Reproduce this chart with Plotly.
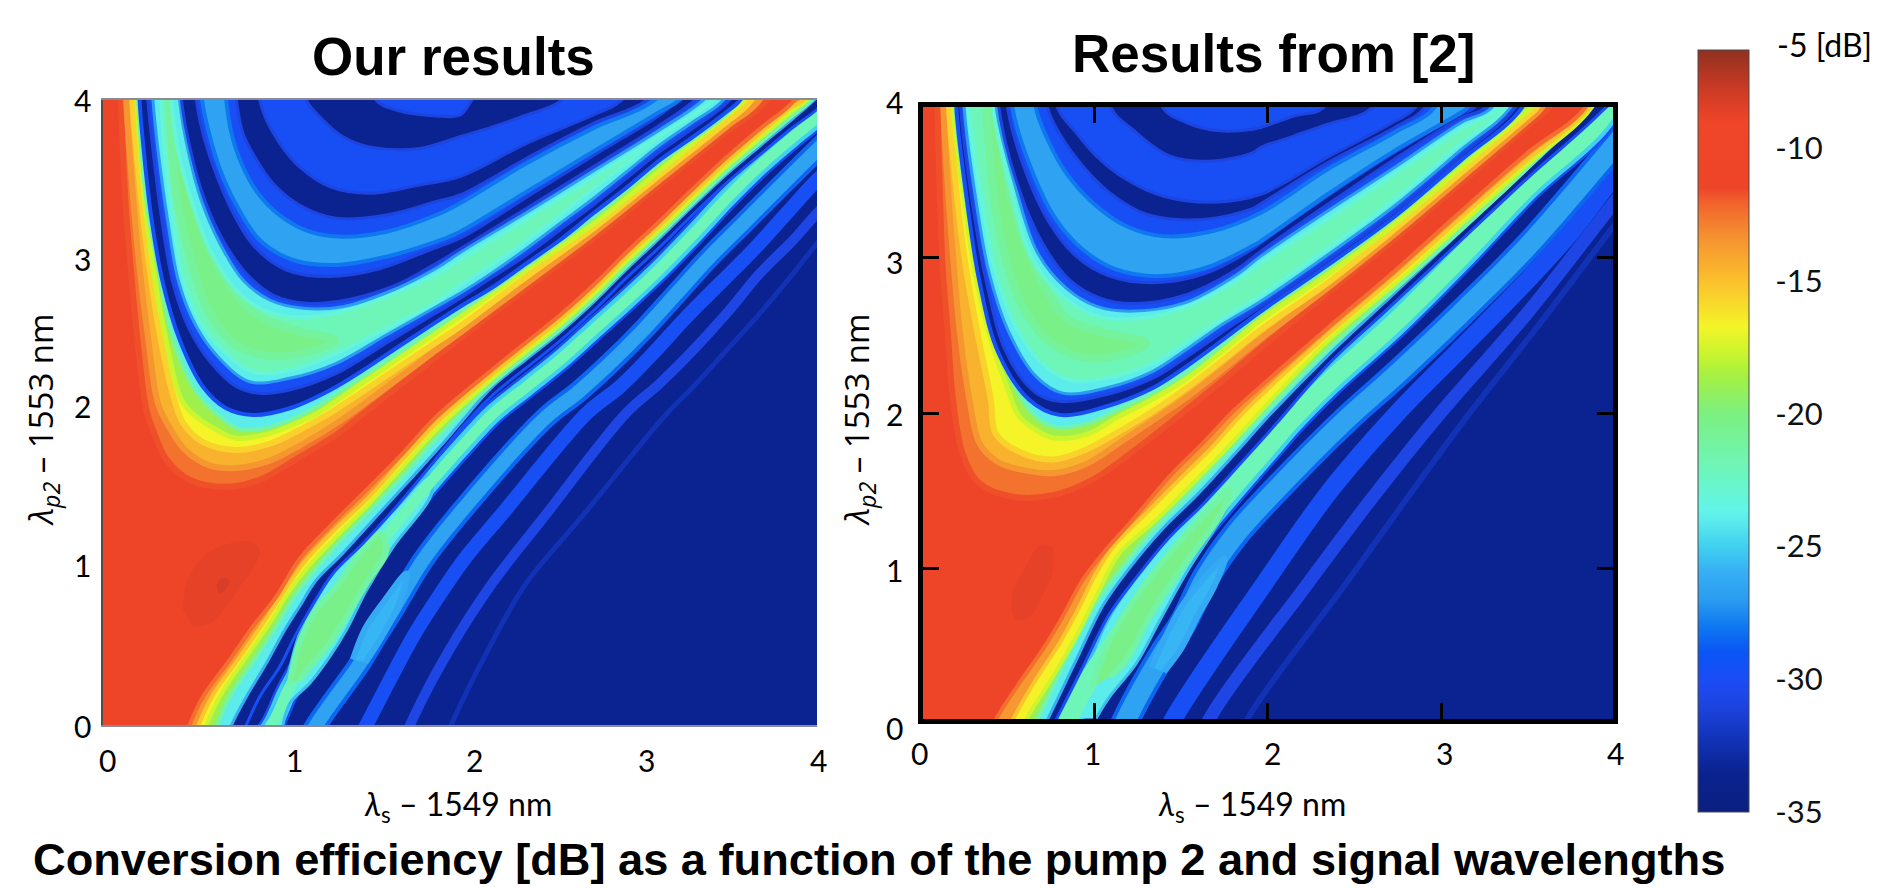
import plotly.graph_objects as go

# ---------- colour scale ----------
CB_DB = [-35, -33.5, -32, -31, -30, -29, -28, -27, -26, -25, -24, -23.6, -22, -20, -18.5, -17.8, -16.7, -15, -13.3, -12, -11.5, -9, -7.7, -6.3]
CB_HEX = ["#0c1f80", "#0a2390", "#1436c0", "#1e44e0", "#1c4cf5", "#0a55f5", "#0f78f0", "#2b9cf0", "#36aef5", "#40d0f0",
          "#5cecec", "#62f5e8", "#6ef5b8", "#7cf080", "#a8f040", "#c7f52f", "#f4f428", "#fbc02d", "#f59030", "#f0602c",
          "#ee4529", "#ef4529", "#c93a25", "#90301f"]
CB_TICKS = [-10, -15, -20, -25, -30, -35]
CB_LABELS = ["-10", "-15", "-20", "-25", "-30", "-35"]
X_TICKS = ["0", "1", "2", "3", "4"]
Y_TICKS = ["0", "1", "2", "3", "4"]

# ---------- "Our results": contour lines, (x, y) in nm ----------
L_V1 = [(.09,4.3),(.10,4),(.125,3.36),(.155,2.93),(.19,2.5),(.243,2.016),(.28,1.89),(.355,1.70),(.485,1.57),(.71,1.525),(.90,1.58),(1.08,1.70),(1.31,1.86),(1.40,1.94),(1.68,2.19),(1.867,2.356),(2,2.475),(2.373,2.795),(2.747,3.115),(3.12,3.456),(3.494,3.797),(3.71,3.99),(3.85,4.3)]
L_V1B = [(.125,4.3),(.13,4),(.17,3.36),(.205,2.93),(.25,2.5),(.31,2.05),(.375,1.9),(.46,1.76),(.6,1.66),(.75,1.645),(.93,1.69),(1.12,1.80),(1.32,1.94),(1.68,2.24),(1.867,2.40),(2,2.51),(2.373,2.827),(2.747,3.147),(3.12,3.488),(3.494,3.83),(3.67,3.99),(3.8,4.3)]
L_V2 = [(.155,4.3),(.165,4),(.215,3.36),(.26,2.93),(.317,2.507),(.40,2.08),(.45,1.93),(.56,1.81),(.747,1.76),(.934,1.80),(1.12,1.90),(1.27,1.995),(1.68,2.307),(1.867,2.449),(2,2.55),(2.373,2.87),(2.747,3.179),(3.12,3.52),(3.494,3.861),(3.625,3.99),(3.75,4.3)]
L_V3 = [(.185,4.3),(.19,4),(.233,3.36),(.28,2.93),(.345,2.507),(.44,2.08),(.52,1.975),(.635,1.89),(.747,1.835),(.934,1.866),(1.12,1.95),(1.21,2.0),(1.40,2.147),(1.68,2.365),(1.867,2.51),(2,2.613),(2.373,2.912),(2.747,3.206),(3.12,3.548),(3.494,3.9),(3.587,3.99),(3.7,4.3)]
L_V4 = [(.19,4.3),(.197,4),(.243,3.36),(.308,2.933),(.383,2.507),(.504,2.165),(.6,2.03),(.75,1.90),(.85,1.89),(1.0,1.93),(1.2,2.04),(1.4,2.19),(1.68,2.40),(1.867,2.544),(2,2.645),(2.373,2.94),(2.747,3.25),(3.12,3.6),(3.494,3.91),(3.56,4),(3.68,4.3)]
L_NOUT = [(.2,4.3),(.205,4),(.228,3.68),(.27,3.253),(.336,2.827),(.43,2.464),(.56,2.165),(.69,2.027),(.84,1.984),(1.046,2.027),(1.307,2.165),(1.68,2.44),(1.867,2.58),(2,2.677),(2.187,2.805),(2.373,2.955),(2.56,3.104),(2.747,3.275),(2.934,3.44),(3.12,3.616),(3.307,3.765),(3.494,3.925),(3.57,4),(3.7,4.3)]
L_NIN = [(.245,4.3),(.252,4),(.28,3.68),(.327,3.253),(.392,2.827),(.486,2.528),(.607,2.315),(.747,2.165),(.878,2.123),(1.046,2.144),(1.307,2.25),(1.587,2.444),(1.867,2.638),(2,2.73),(2.187,2.87),(2.373,3.008),(2.56,3.168),(2.747,3.328),(2.934,3.5),(3.12,3.67),(3.307,3.82),(3.51,4),(3.65,4.3)]
L_V8 = [(.27,4.3),(.28,4),(.308,3.68),(.359,3.253),(.426,2.827),(.523,2.55),(.644,2.357),(.822,2.197),(1.046,2.219),(1.307,2.315),(1.587,2.496),(1.867,2.677),(2,2.763),(2.187,2.90),(2.373,3.05),(2.56,3.21),(2.747,3.37),(2.934,3.541),(3.12,3.712),(3.307,3.861),(3.475,4),(3.6,4.3)]
L_V9 = [(.32,4.3),(.327,4),(.345,3.68),(.392,3.253),(.457,2.827),(.56,2.55),(.672,2.4),(.84,2.261),(1.046,2.272),(1.307,2.379),(1.587,2.54),(1.867,2.71),(2,2.816),(2.187,2.955),(2.373,3.104),(2.56,3.264),(2.747,3.435),(2.934,3.595),(3.12,3.765),(3.307,3.915),(3.41,4),(3.55,4.3)]
L_GREEN = [(.37,4.1),(.41,3.4),(.5,2.95),(.6,2.63),(.75,2.43),(1.0,2.36),(1.3,2.46),(1.1,2.52),(.9,2.6),(.75,2.75),(.62,3.0),(.52,3.3),(.45,3.7),(.4,4.1)]
L_V10 = [(.375,4.3),(.383,3.99),(.42,3.68),(.495,3.36),(.60,3.04),(.747,2.784),(.878,2.667),(1.046,2.613),(1.307,2.635),(1.587,2.74),(1.867,2.88),(2,2.976),(2.373,3.236),(2.747,3.50),(3.12,3.77),(3.42,4),(3.65,4.3)]
L_V11 = [(.42,4.3),(.43,3.99),(.476,3.68),(.55,3.36),(.654,3.083),(.784,2.848),(.934,2.72),(1.12,2.667),(1.344,2.677),(1.625,2.784),(1.867,2.923),(2,3.023),(2.373,3.28),(2.747,3.546),(3.12,3.81),(3.363,4),(3.6,4.3)]
L_V12 = [(.43,4.3),(.44,4),(.49,3.68),(.57,3.36),(.672,3.104),(.803,2.89),(.952,2.752),(1.14,2.70),(1.363,2.72),(1.643,2.816),(1.867,2.955),(2,3.046),(2.373,3.307),(2.747,3.573),(3.12,3.84),(3.316,4),(3.55,4.3)]
L_V13 = [(.51,4.3),(.523,4),(.56,3.787),(.626,3.55),(.72,3.296),(.85,3.06),(1.027,2.912),(1.27,2.87),(1.55,2.92),(1.83,3.04),(2,3.115),(2.373,3.377),(2.747,3.644),(3.12,3.904),(3.223,4),(3.5,4.3)]
L_V14 = [(.54,4.3),(.555,4),(.594,3.787),(.657,3.55),(.747,3.328),(.878,3.104),(1.064,2.976),(1.307,2.944),(1.587,2.997),(1.867,3.093),(2,3.157),(2.373,3.413),(2.747,3.67),(3.12,3.925),(3.23,4),(3.45,4.3)]
L_V15 = [(.67,4.3),(.69,4),(.72,3.787),(.775,3.595),(.868,3.403),(1.0,3.253),(1.158,3.157),(1.344,3.125),(1.587,3.157),(1.867,3.264),(2,3.339),(2.373,3.595),(2.747,3.82),(3.09,4),(3.3,4.3)]
L_V16 = [(.72,4.3),(.747,4),(.784,3.787),(.85,3.637),(.952,3.467),(1.10,3.328),(1.307,3.243),(1.587,3.264),(1.867,3.35),(2,3.392),(2.373,3.627),(2.747,3.85),(3.046,4),(3.25,4.3)]
L_V17 = [(.85,4.3),(.878,4),(.915,3.872),(.99,3.723),(1.10,3.573),(1.27,3.445),(1.494,3.403),(1.774,3.456),(2,3.51),(2.373,3.723),(2.747,3.904),(2.896,3.99),(3.1,4.3)]
L_V18 = [(1.1,4.3),(1.14,4),(1.214,3.893),(1.344,3.765),(1.494,3.70),(1.774,3.69),(2,3.765),(2.187,3.83),(2.373,3.904),(2.56,3.99),(2.8,4.3)]
L_V19 = [(1.48,4.3),(1.53,4),(1.643,3.936),(1.867,3.898),(2,3.904),(2.06,3.99),(2.2,4.3)]
L_P0 = [(.70,-.3),(.803,0),(.878,.181),(.99,.373),(1.074,.565),(1.158,.736),(1.288,.97),(1.457,1.163),(1.643,1.397),(1.83,1.653),(2,1.89),(2.187,2.116),(2.373,2.287),(2.56,2.458),(2.747,2.65),(2.934,2.863),(3.12,3.06),(3.307,3.27),(3.494,3.47),(3.68,3.65),(3.867,3.827),(4,3.94),(4.3,4.3)]
L_P1 = [(.62,-.3),(.72,0),(.803,.181),(.915,.395),(1.018,.608),(1.10,.757),(1.195,.928),(1.344,1.10),(1.53,1.333),(1.718,1.568),(1.905,1.803),(2,1.93),(2.187,2.172),(2.373,2.342),(2.56,2.513),(2.747,2.705),(2.934,2.918),(3.12,3.118),(3.307,3.325),(3.494,3.525),(3.68,3.705),(3.867,3.883),(3.98,3.996),(4.25,4.3)]
L_P2 = [(.54,-.3),(.64,0),(.71,.181),(.85,.42),(.97,.63),(1.07,.82),(1.17,.97),(1.33,1.18),(1.51,1.39),(1.7,1.62),(1.88,1.85),(2.187,2.19),(2.373,2.362),(2.56,2.532),(2.747,2.724),(2.934,2.938),(3.12,3.137),(3.307,3.344),(3.494,3.544),(3.68,3.725),(3.867,3.902),(3.97,4),(4.2,4.3)]
L_P3 = [(.48,-.3),(.58,0),(.654,.181),(.803,.437),(.934,.65),(1.036,.843),(1.14,1.0),(1.307,1.205),(1.494,1.419),(1.68,1.653),(1.867,1.888),(2.187,2.221),(2.373,2.391),(2.56,2.562),(2.747,2.754),(2.934,2.967),(3.12,3.167),(3.307,3.374),(3.494,3.574),(3.68,3.755),(3.867,3.932),(3.933,3.99),(4.15,4.3)]
L_P4 = [(.44,-.3),(.535,0),(.61,.181),(.757,.42),(.89,.64),(1.0,.83),(1.12,1.03),(1.29,1.24),(1.5,1.47),(1.68,1.70),(1.867,1.93),(2.187,2.25),(2.373,2.421),(2.56,2.592),(2.747,2.784),(2.934,2.997),(3.12,3.196),(3.307,3.404),(3.494,3.604),(3.68,3.785),(3.867,3.962),(3.914,3.99),(4.1,4.3)]
L_P5 = [(.39,-.3),(.485,0),(.56,.181),(.71,.416),(.84,.63),(.97,.82),(1.10,1.06),(1.27,1.27),(1.494,1.525),(1.68,1.74),(1.867,1.973),(2.187,2.28),(2.373,2.451),(2.56,2.622),(2.747,2.814),(2.934,3.027),(3.12,3.226),(3.307,3.434),(3.494,3.634),(3.68,3.815),(3.867,3.99),(4.05,4.3)]
L_SGREEN = [(.82,-.2),(.952,.01),(1.027,.2),(1.12,.395),(1.195,.565),(1.307,.795),(1.457,1.03),(1.643,1.29),(1.83,1.547),(2.017,1.79),(2.187,1.995),(2.373,2.165),(2.56,2.336),(2.747,2.528),(2.934,2.72),(3.12,2.92),(3.307,3.14),(3.494,3.37),(3.68,3.58),(3.867,3.765),(4,3.893),(4.2,4.2)]
L_SLIGHT = [(1.1,-.2),(1.195,0),(1.44,.395),(1.53,.565),(1.625,.736),(1.79,1.05),(1.98,1.33),(2.485,1.973),(2.654,2.123),(2.84,2.315),(3.027,2.528),(3.214,2.763),(3.40,2.997),(3.587,3.21),(3.774,3.424),(4,3.68),(4.2,3.9)]
L_SBLUE = [(1.38,-.2),(1.475,0),(1.737,.565),(1.867,.80),(2.017,1.05),(2.25,1.37),(2.71,1.995),(2.896,2.165),(3.083,2.38),(3.27,2.613),(3.457,2.827),(3.643,3.04),(3.83,3.275),(4,3.488),(4.2,3.7)]
L_SBLUE2 = [(1.65,-.2),(1.74,.05),(1.94,.48),(2.18,.906),(2.47,1.33),(2.93,1.995),(3.12,2.187),(3.307,2.4),(3.494,2.635),(3.68,2.89),(3.867,3.104),(4,3.275),(4.2,3.5)]
L_SFAINT = [(1.88,-.2),(1.97,.05),(2.157,.48),(2.37,.906),(2.68,1.33),(3.16,1.995),(3.307,2.165),(3.494,2.4),(3.68,2.635),(3.867,2.89),(4,3.083),(4.2,3.35)]
L_LOBE_CYAN = [(.896,0),(1.008,.224),(1.083,.523),(1.158,.757),(1.288,.97),(1.457,1.163),(1.65,1.40),(1.83,1.60),(1.84,1.48),(1.625,1.14),(1.475,.86),(1.363,.608),(1.27,.437),(1.158,.267),(1.046,.139),(1.008,0)]
L_LOBE_GREEN = [(1.046,.267),(1.10,.523),(1.195,.736),(1.307,.885),(1.44,1.10),(1.55,1.226),(1.587,1.12),(1.475,.906),(1.363,.693),(1.27,.523),(1.158,.373),(1.10,.288)]
L_LOBE_LIGHT = [(1.40,.42),(1.47,.62),(1.58,.80),(1.70,.97),(1.66,.78),(1.56,.56),(1.47,.40)]
L_SPOT = [(.448,.736),(.467,.906),(.56,1.077),(.654,1.142),(.822,1.174),(.878,1.12),(.84,1.0),(.766,.885),(.69,.757),(.6,.65),(.504,.629)]
L_SPOT2 = [(.635,.89),(.66,.94),(.71,.93),(.69,.87),(.65,.84)]

# ---------- "Results from [2]" ----------
R_V1 = [(.09,4.4),(.095,3.97),(.11,3.38),(.125,2.947),(.155,2.516),(.185,2.085),(.24,1.74),(.335,1.548),(.53,1.46),(.76,1.47),(.99,1.57),(1.22,1.75),(1.53,2.02),(1.75,2.22),(1.96,2.42),(2.345,2.775),(2.73,3.12),(3.116,3.486),(3.5,3.853),(3.617,3.97),(3.8,4.4)]
R_V1B = [(.125,4.4),(.13,3.97),(.16,3.38),(.19,2.947),(.225,2.516),(.28,2.085),(.34,1.80),(.45,1.68),(.6,1.63),(.76,1.612),(.95,1.67),(1.16,1.82),(1.4,2.0),(1.53,2.10),(1.75,2.29),(1.96,2.48),(2.345,2.807),(2.73,3.152),(3.116,3.518),(3.5,3.885),(3.58,3.97),(3.75,4.4)]
R_V2 = [(.155,4.4),(.162,3.97),(.21,3.38),(.258,2.947),(.326,2.516),(.403,2.085),(.43,1.87),(.566,1.75),(.76,1.70),(.95,1.763),(1.145,1.882),(1.337,2.011),(1.53,2.16),(1.75,2.35),(1.96,2.538),(2.345,2.84),(2.73,3.184),(3.116,3.551),(3.5,3.917),(3.55,3.97),(3.7,4.4)]
R_V3 = [(.18,4.4),(.185,3.97),(.249,3.38),(.306,2.947),(.393,2.516),(.509,2.128),(.566,1.979),(.66,1.893),(.76,1.84),(.95,1.86),(1.145,1.98),(1.337,2.09),(1.53,2.22),(1.75,2.41),(1.96,2.60),(2.345,2.894),(2.73,3.217),(3.116,3.583),(3.5,3.95),(3.52,3.97),(3.68,4.4)]
R_V4 = [(.195,4.4),(.20,3.97),(.262,3.38),(.33,2.947),(.415,2.516),(.53,2.2),(.64,2.0),(.76,1.914),(.95,1.93),(1.15,2.03),(1.337,2.13),(1.53,2.26),(1.75,2.45),(1.96,2.646),(2.345,2.937),(2.73,3.26),(3.116,3.626),(3.46,3.96),(3.62,4.4)]
R_NOUT = [(.2,4.4),(.204,3.97),(.264,3.38),(.335,2.861),(.447,2.387),(.624,2.085),(.798,1.988),(1.067,2.042),(1.337,2.161),(1.53,2.30),(1.75,2.48),(1.96,2.656),(2.345,2.954),(2.73,3.266),(3.116,3.633),(3.463,3.967),(3.62,4.4)]
R_NIN = [(.225,4.4),(.229,3.97),(.293,3.38),(.374,2.861),(.493,2.387),(.663,2.128),(.798,2.075),(1.067,2.118),(1.337,2.225),(1.53,2.36),(1.75,2.53),(1.96,2.687),(2.345,2.984),(2.73,3.296),(3.116,3.663),(3.434,3.98),(3.6,4.4)]
R_V8 = [(.245,4.4),(.249,3.97),(.316,3.38),(.393,2.904),(.509,2.516),(.663,2.236),(.817,2.128),(1.067,2.161),(1.337,2.269),(1.53,2.41),(1.75,2.58),(1.96,2.721),(2.345,3.02),(2.73,3.335),(3.116,3.70),(3.405,3.98),(3.55,4.4)]
R_V9 = [(.27,4.4),(.274,3.97),(.351,3.38),(.422,2.947),(.547,2.56),(.70,2.32),(.855,2.215),(1.067,2.225),(1.337,2.322),(1.53,2.46),(1.75,2.62),(1.96,2.764),(2.345,3.066),(2.73,3.38),(3.116,3.745),(3.37,3.97),(3.5,4.4)]
R_GREEN = [(.37,4.1),(.42,3.4),(.5,2.95),(.6,2.66),(.75,2.45),(1.0,2.35),(1.3,2.45),(1.05,2.52),(.85,2.6),(.72,2.8),(.62,3.05),(.52,3.4),(.43,4.1)]
R_V10 = [(.41,4.4),(.416,3.97),(.509,3.486),(.644,2.99),(.817,2.753),(.99,2.635),(1.183,2.603),(1.491,2.667),(1.819,2.85),(1.96,2.969),(2.345,3.249),(2.73,3.54),(3.116,3.831),(3.33,3.97),(3.48,4.4)]
R_V11 = [(.43,4.4),(.435,3.97),(.538,3.486),(.672,3.034),(.836,2.807),(1.01,2.689),(1.2,2.657),(1.52,2.71),(1.819,2.89),(1.96,3.012),(2.345,3.303),(2.73,3.583),(3.116,3.874),(3.29,3.97),(3.42,4.4)]
R_V12 = [(.445,4.4),(.45,3.97),(.566,3.443),(.70,3.098),(.855,2.861),(1.03,2.743),(1.22,2.706),(1.53,2.764),(1.819,2.925),(1.96,3.044),(2.345,3.346),(2.73,3.637),(3.116,3.906),(3.25,3.97),(3.4,4.4)]
R_V13 = [(.495,4.4),(.50,3.97),(.605,3.551),(.74,3.228),(.894,3.012),(1.087,2.883),(1.337,2.84),(1.626,2.894),(1.915,3.06),(1.96,3.098),(2.345,3.40),(2.73,3.68),(3.116,3.93),(3.19,3.97),(3.35,4.4)]
R_V14 = [(.52,4.4),(.528,3.97),(.644,3.551),(.778,3.249),(.933,3.055),(1.125,2.926),(1.376,2.883),(1.645,2.937),(1.915,3.08),(1.96,3.109),(2.345,3.411),(2.73,3.691),(3.116,3.94),(3.15,3.97),(3.3,4.4)]
R_V15 = [(.65,4.4),(.663,3.97),(.73,3.766),(.836,3.551),(.99,3.357),(1.183,3.206),(1.395,3.141),(1.684,3.174),(1.96,3.292),(2.345,3.572),(2.73,3.81),(2.96,3.97),(3.1,4.4)]
R_V16 = [(.71,4.4),(.73,3.97),(.807,3.788),(.933,3.594),(1.087,3.422),(1.3,3.282),(1.626,3.249),(1.915,3.32),(1.96,3.35),(2.345,3.615),(2.73,3.842),(2.904,3.97),(3.05,4.4)]
R_V17 = [(.77,4.4),(.788,3.97),(.894,3.81),(1.01,3.659),(1.183,3.508),(1.395,3.4),(1.684,3.36),(1.96,3.411),(2.345,3.65),(2.73,3.88),(2.85,3.97),(3.0,4.4)]
R_V18 = [(1.07,4.4),(1.096,3.97),(1.22,3.83),(1.433,3.659),(1.684,3.626),(1.915,3.68),(1.96,3.713),(2.153,3.788),(2.345,3.863),(2.6,3.97),(2.75,4.4)]
R_V19 = [(1.37,4.4),(1.395,3.97),(1.53,3.874),(1.72,3.82),(1.915,3.83),(1.96,3.842),(2.153,3.917),(2.32,3.97),(2.45,4.4)]
R_P0 = [(.63,-.3),(.77,0),(.93,.354),(1.085,.70),(1.24,.936),(1.43,1.195),(1.625,1.41),(1.855,1.69),(2.045,1.927),(2.345,2.31),(2.73,2.712),(3.116,3.116),(3.5,3.519),(3.92,3.94),(4.2,4.3)]
R_P1 = [(.58,-.3),(.72,0),(.89,.394),(1.05,.76),(1.2,.996),(1.395,1.255),(1.59,1.47),(1.82,1.75),(2.01,1.987),(2.345,2.37),(2.73,2.773),(3.116,3.176),(3.5,3.579),(3.885,4.0),(4.05,4.3)]
R_P2 = [(.52,-.3),(.66,0),(.83,.394),(1.0,.76),(1.15,.99),(1.35,1.26),(1.56,1.50),(1.79,1.77),(1.98,2.0),(2.345,2.409),(2.73,2.797),(3.116,3.184),(3.5,3.583),(3.86,4.0),(4.03,4.3)]
R_P3 = [(.47,-.3),(.605,.018),(.76,.298),(.894,.556),(1.01,.815),(1.145,1.095),(1.337,1.29),(1.53,1.505),(1.72,1.72),(1.915,1.957),(2.345,2.463),(2.73,2.829),(3.116,3.217),(3.5,3.605),(3.867,3.97),(4.03,4.4)]
R_P4 = [(.39,-.3),(.528,.018),(.66,.276),(.798,.513),(.913,.75),(1.01,.966),(1.125,1.16),(1.3,1.354),(1.49,1.57),(1.684,1.785),(1.857,2.0),(2.345,2.506),(2.73,2.872),(3.116,3.26),(3.5,3.637),(3.85,3.97),(4.0,4.4)]
R_P5 = [(.3,-.3),(.43,.018),(.566,.255),(.70,.47),(.817,.686),(.933,.923),(1.067,1.117),(1.22,1.31),(1.433,1.59),(1.626,1.806),(1.8,2.011),(1.96,2.172),(2.345,2.549),(2.73,2.915),(3.116,3.303),(3.5,3.68),(3.83,3.97),(3.98,4.4)]
R_SGREEN = [(.75,-.2),(.855,.04),(.99,.32),(1.164,.6),(1.337,.88),(1.53,1.16),(1.76,1.47),(2.03,1.82),(2.114,1.93),(2.345,2.193),(2.73,2.581),(3.116,3.012),(3.5,3.465),(3.887,3.853),(4.1,4.2)]
R_SLIGHT = [(1.1,-.2),(1.20,.06),(1.395,.449),(1.51,.643),(1.645,.944),(1.82,1.225),(2.01,1.46),(2.45,1.956),(2.73,2.236),(3.116,2.646),(3.5,3.077),(3.99,3.713),(4.2,4)]
R_SBLUE = [(1.36,-.2),(1.463,.04),(1.98,.9),(2.36,1.5),(2.73,1.98),(3.116,2.42),(3.5,2.86),(3.75,3.17),(3.99,3.52),(4.2,3.8)]
R_SBLUE2 = [(1.58,-.2),(1.67,.04),(2.23,.9),(2.6,1.45),(2.98,1.98),(3.5,2.65),(3.99,3.35),(4.2,3.65)]
R_SFAINT = [(1.8,-.2),(1.89,.04),(2.45,.9),(2.745,1.36),(3.15,1.98),(3.55,2.55),(3.99,3.2),(4.2,3.5)]
R_LOBE_CYAN = [(.817,.03),(.952,.341),(1.067,.643),(1.241,.944),(1.433,1.203),(1.645,1.44),(1.8,1.62),(1.8,1.47),(1.72,1.3),(1.53,.97),(1.376,.66),(1.241,.384),(1.087,.168),(1.01,.03)]
R_LOBE_GREEN = [(.99,.233),(1.087,.535),(1.241,.815),(1.433,1.095),(1.645,1.354),(1.78,1.5),(1.72,1.333),(1.51,1.01),(1.318,.686),(1.183,.406),(1.087,.298)]
R_LOBE_LIGHT = [(1.33,.36),(1.42,.58),(1.52,.78),(1.75,1.06),(1.69,.88),(1.6,.7),(1.5,.48),(1.4,.33)]
R_SPOT = [(.52,.72),(.53,.85),(.6,1.0),(.68,1.14),(.75,1.14),(.76,.98),(.7,.82),(.62,.68),(.55,.66)]

NAVY, BLUE, LIGHT, CYAN, MINT, GREEN = -33.5, -29.7, -26.6, -24, -22, -20.3
W = 1882
H = 888


def colour(db):
    for i in range(len(CB_DB) - 1):
        if CB_DB[i] <= db <= CB_DB[i + 1]:
            t = (db - CB_DB[i]) / (CB_DB[i + 1] - CB_DB[i])
            a, b = CB_HEX[i], CB_HEX[i + 1]
            rgb = [round(int(a[k:k + 2], 16) * (1 - t) + int(b[k:k + 2], 16) * t) for k in (1, 3, 5)]
            return "rgb(%d,%d,%d)" % tuple(rgb)
    return CB_HEX[-1]


fig = go.Figure()


def add_poly(pts, axes, level, rim=None, rim_w=0, corners=False):
    pts = list(pts)
    if corners:
        pts = pts + [(-.6, 4.6), (-.6, -.6)]
    fig.add_trace(go.Scatter(
        x=[p[0] for p in pts], y=[p[1] for p in pts], xaxis=axes[0], yaxis=axes[1], mode="lines",
        fill="toself", fillcolor=colour(level), hoverinfo="skip", showlegend=False,
        line=dict(shape="spline", smoothing=1, simplify=False,
                  color=colour(rim if rim is not None else level), width=rim_w if rim is not None else 0)))


def add_stroke(pts, axes, level, width):
    fig.add_trace(go.Scatter(
        x=[p[0] for p in pts], y=[p[1] for p in pts], xaxis=axes[0], yaxis=axes[1], mode="lines",
        hoverinfo="skip", showlegend=False,
        line=dict(shape="spline", smoothing=1, simplify=False, color=colour(level), width=width)))


def panel(axes, c, green_w, light_w, blue_w, blue2_w, faint_w):
    add_stroke(c["SFAINT"], axes, -32.3, faint_w)
    add_stroke(c["SBLUE2"], axes, -30.8, blue2_w)
    add_stroke(c["SBLUE"], axes, BLUE, blue_w)
    add_stroke(c["SLIGHT"], axes, -28.5, light_w + 8)
    add_stroke(c["SLIGHT"], axes, LIGHT, light_w)
    add_poly(c["LOBE_LIGHT"], axes, -25.8, -26.2, 6)
    add_stroke(c["SGREEN"], axes, BLUE, green_w + 10)
    add_stroke(c["SGREEN"], axes, -25, green_w + 5)
    add_poly(c["LOBE_CYAN"], axes, -24, -25.5, 3)
    add_stroke(c["SGREEN"], axes, MINT, green_w - 3)
    add_poly(c["LOBE_GREEN"], axes, GREEN, -21.3, 6)
    add_poly(c["P0"], axes, NAVY, BLUE, 3, corners=True)
    add_poly(c["P1"], axes, -24, -26, 3, corners=True)
    add_poly(c["P2"], axes, -19, -21.5, 4, corners=True)
    add_poly(c["P3"], axes, -16.6, -17.7, 4, corners=True)
    add_poly(c["P4"], axes, -13.6, -15.2, 4, corners=True)
    add_poly(c["P5"], axes, -11, -12.4, 4, corners=True)
    add_poly(c["SPOT"], axes, -8.7)
    if "SPOT2" in c:
        add_poly(c["SPOT2"], axes, -8.2)
    add_poly(c["V1"], axes, -12.5, -11.7, 6)
    add_poly(c["V1B"], axes, -14.5, -13.5, 6)
    add_poly(c["V2"], axes, -16.7, -15.6, 6)
    add_poly(c["V3"], axes, -18.8, -17.7, 5)
    add_poly(c["V4"], axes, CYAN, -21.5, 4)
    add_poly(c["NOUT"], axes, NAVY, BLUE, 4)
    add_poly(c["NIN"], axes, BLUE, -31, 3)
    add_poly(c["V8"], axes, CYAN, -27, 3)
    add_poly(c["V9"], axes, MINT, -23, 4)
    add_poly(c["GREEN"], axes, GREEN, -21, 8)
    add_poly(c["V10"], axes, CYAN, -23, 4)
    add_poly(c["V11"], axes, BLUE, -27, 3)
    add_poly(c["V12"], axes, NAVY, -31, 3)
    add_poly(c["V13"], axes, BLUE, -31, 3)
    add_poly(c["V14"], axes, LIGHT, -28, 4)
    add_poly(c["V15"], axes, BLUE, -28, 4)
    add_poly(c["V16"], axes, NAVY, -31, 3)
    add_poly(c["V17"], axes, BLUE, -31, 3)
    add_poly(c["V18"], axes, NAVY, -31, 3)
    add_poly(c["V19"], axes, BLUE, -31, 3)


left = {k[2:]: v for k, v in globals().items() if k.startswith("L_")}
right = {k[2:]: v for k, v in globals().items() if k.startswith("R_")}
panel(("x", "y"), left, 14, 14, 14, 10, 5)
panel(("x2", "y2"), right, 22, 20, 18, 13, 6)

# colour bar, carried by an invisible marker
fig.add_trace(go.Scatter(
    x=[2], y=[2], xaxis="x", yaxis="y", mode="markers", hoverinfo="skip", showlegend=False,
    marker=dict(size=1, opacity=0, color=[-20], cmin=-35, cmax=-6.3, showscale=True,
                colorscale=[[(d + 35) / 28.7, h] for d, h in zip(CB_DB, CB_HEX)],
                colorbar=dict(x=1698 / W, xanchor="left", xref="paper", xpad=0, y=1 - 50 / H, yanchor="top", ypad=0,
                              yref="paper", lenmode="pixels", len=762, thicknessmode="pixels", thickness=51,
                              outlinecolor="#4a4a4a", outlinewidth=1, tickmode="array", tickvals=CB_TICKS,
                              ticktext=CB_LABELS, ticks="outside", ticklen=20,
                              tickcolor="rgba(0,0,0,0)", tickfont=dict(family="Lato", size=31, color="#111")))))


def px_x(p):
    return p / W


def px_y(p):
    return 1 - p / H


def label(text, x, y, size=30, family="Lato", bold=False, angle=0, xanchor="center"):
    fig.add_annotation(text=("<b>%s</b>" % text) if bold else text, x=px_x(x), y=px_y(y), xref="paper", yref="paper",
                       showarrow=False, xanchor=xanchor, yanchor="middle", textangle=angle,
                       font=dict(family=family, size=size, color="#000"))


label("Our results", 453, 56, 53, "Liberation Sans", True)
label("Results from [2]", 1273, 53, 53, "Liberation Sans", True)
label("Conversion efficiency [dB] as a function of the pump 2 and signal wavelengths", 879, 859, 45.2, "Liberation Sans", True)
label("-5 [dB]", 1775, 45, 32, xanchor="left")
for t, x in zip(X_TICKS, [107, 294, 474, 646, 818]):
    label(t, x, 760)
for t, y in zip(Y_TICKS, [726, 565, 406, 259, 100]):
    label(t, 82, y)
for t, x in zip(X_TICKS, [919, 1092, 1272, 1444, 1615]):
    label(t, x, 753)
for t, y in zip(Y_TICKS, [728, 570, 414, 262, 102]):
    label(t, 894, y)
XT = "<i>λ</i><sub>s</sub> – 1549 nm"
YT = "<i>λ</i><sub><i>p2</i></sub> – 1553 nm"
label(XT, 458, 806, 32)
label(XT, 1252, 806, 32)
label(YT, 42, 420, 33, "Open Sans", angle=-90)
label(YT, 858, 420, 33, "Open Sans", angle=-90)

fig.update_layout(
    width=W, height=H, margin=dict(l=0, r=0, t=0, b=0, autoexpand=False), paper_bgcolor="white",
    plot_bgcolor=colour(NAVY), showlegend=False,
    xaxis=dict(domain=[103 / W, 817 / W], range=[0, 4], showgrid=False, zeroline=False, showticklabels=False, ticks="",
               showline=True, linecolor="#8a8a98", linewidth=2, mirror=True),
    yaxis=dict(domain=[1 - 725 / H, 1 - 100 / H], range=[0, 4], showgrid=False, zeroline=False, showticklabels=False,
               ticks="", showline=True, linecolor="#5a4a44", linewidth=2),
    xaxis2=dict(domain=[922.5 / W, 1613 / W], range=[.009, 3.99], anchor="y2", showgrid=False, zeroline=False,
                showticklabels=False, tickvals=[1, 2, 3], ticks="inside", ticklen=16, tickwidth=3, tickcolor="#000",
                showline=True, linecolor="#000", linewidth=5, mirror="allticks"),
    yaxis2=dict(domain=[1 - 719 / H, 1 - 107 / H], range=[.026, 3.974], anchor="x2", showgrid=False, zeroline=False,
                showticklabels=False, tickvals=[1, 2, 3], ticks="inside", ticklen=16, tickwidth=3, tickcolor="#000",
                showline=True, linecolor="#000", linewidth=5, mirror="allticks"),
)

fig.write_html("out.html", config={"displayModeBar": False},
               post_script="document.body.style.margin='0';document.body.style.overflow='hidden';")
